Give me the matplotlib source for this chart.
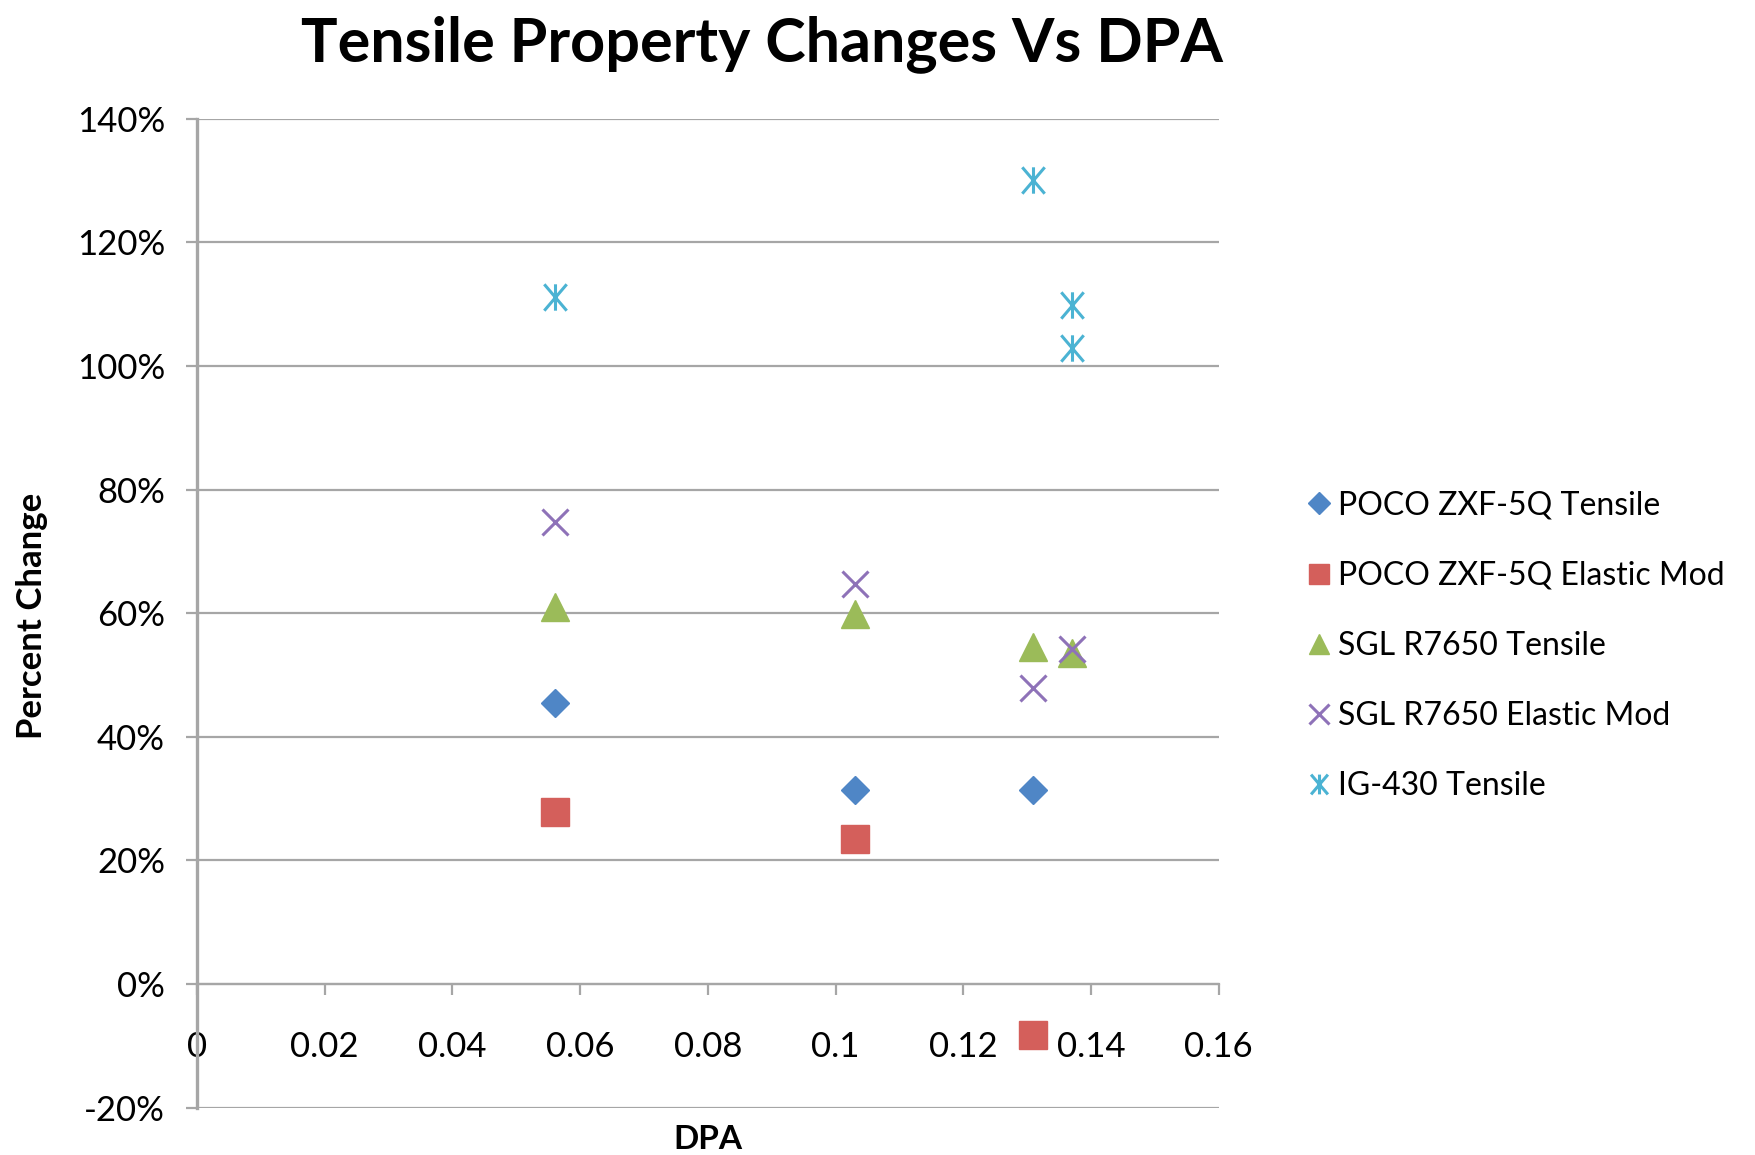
import matplotlib
matplotlib.use("Agg")
import matplotlib.pyplot as plt
from matplotlib.path import Path
from matplotlib.ticker import FuncFormatter, MultipleLocator

plt.rcParams['font.family'] = ['Lato', 'DejaVu Sans']

# displacements per atom for each series
poco_tensile_dpa = [0.056, 0.103, 0.131]
poco_tensile_pct = [45.5, 31.4, 31.4]

poco_elastic_dpa = [0.056, 0.103, 0.131]
poco_elastic_pct = [27.8, 23.4, -8.3]

sgl_tensile_dpa = [0.056, 0.103, 0.131, 0.137]
sgl_tensile_pct = [61.0, 59.9, 54.6, 53.5]

sgl_elastic_dpa = [0.056, 0.103, 0.131, 0.137]
sgl_elastic_pct = [74.7, 64.8, 47.9, 54.2]

ig430_tensile_dpa = [0.056, 0.131, 0.137, 0.137]
ig430_tensile_pct = [111.2, 130.1, 109.8, 102.9]

series_names = ["POCO ZXF-5Q Tensile", "POCO ZXF-5Q Elastic Mod",
                "SGL R7650 Tensile", "SGL R7650 Elastic Mod", "IG-430 Tensile"]

# six-armed asterisk: vertical stroke plus a wide X
asterisk = Path([(0, -1), (0, 1), (-0.85, -1), (0.85, 1), (-0.85, 1), (0.85, -1)],
                [Path.MOVETO, Path.LINETO, Path.MOVETO, Path.LINETO, Path.MOVETO, Path.LINETO])

fig = plt.figure(figsize=(17.56, 11.55), dpi=100)
ax = fig.add_axes([0.1122, 0.041, 0.5818, 0.8562])

grey = '#a6a6a6'
ax.plot(poco_tensile_dpa, poco_tensile_pct, linestyle='none', marker='D', ms=14.5,
        color='#4f86c6', mec='#4f86c6', label=series_names[0])
ax.plot(poco_elastic_dpa, poco_elastic_pct, linestyle='none', marker='s', ms=20,
        color='#d45f5b', mec='#d45f5b', label=series_names[1])
ax.plot(sgl_tensile_dpa, sgl_tensile_pct, linestyle='none', marker='^', ms=20,
        color='#9bbb59', mec='#9bbb59', label=series_names[2])
ax.plot(sgl_elastic_dpa, sgl_elastic_pct, linestyle='none', marker='x', ms=19,
        mew=2.2, color='#8e72b8', label=series_names[3])
ax.plot(ig430_tensile_dpa, ig430_tensile_pct, linestyle='none', marker=asterisk, ms=19,
        mew=2.2, color='#4bb3d3', label=series_names[4])

ax.set_xlim(0, 0.16)
ax.set_ylim(-20, 140)
ax.xaxis.set_major_locator(MultipleLocator(0.02))
ax.yaxis.set_major_locator(MultipleLocator(20))
ax.xaxis.set_major_formatter(FuncFormatter(lambda v, p: '0' if abs(v) < 1e-9 else ('%.2f' % v).rstrip('0')))
ax.yaxis.set_major_formatter(FuncFormatter(lambda v, p: '%d%%' % round(v)))

ax.set_axisbelow(True)
ax.yaxis.grid(True, color=grey, linewidth=1.6)
for side in ['top', 'right']:
    ax.spines[side].set_visible(False)
ax.spines['bottom'].set_position(('data', 0))
ax.spines['bottom'].set_color(grey)
ax.spines['bottom'].set_linewidth(1.6)
ax.spines['left'].set_color(grey)
ax.spines['left'].set_linewidth(2.4)

ax.tick_params(axis='x', direction='out', length=8, width=1.6, color=grey,
               labelsize=25, pad=26)
ax.tick_params(axis='y', direction='out', length=8, width=1.6, color=grey,
               labelsize=25, pad=15)

fig.text(0.434, 0.962, "Tensile Property Changes Vs DPA", ha='center', va='center',
         fontsize=44, fontweight='bold')
fig.text(0.018, 0.467, "Percent Change", rotation=90, ha='center', va='center',
         fontsize=25, fontweight='bold')
fig.text(0.403, 0.013, "DPA", ha='center', va='center', fontsize=24, fontweight='bold')

ax.legend(loc='center left', bbox_to_anchor=(0.734, 0.4407),
          bbox_transform=fig.transFigure, frameon=False, fontsize=23,
          borderpad=0, handlelength=0.9, handletextpad=0.15, labelspacing=1.26,
          markerscale=0.75)

fig.savefig("out.png", dpi=100)
